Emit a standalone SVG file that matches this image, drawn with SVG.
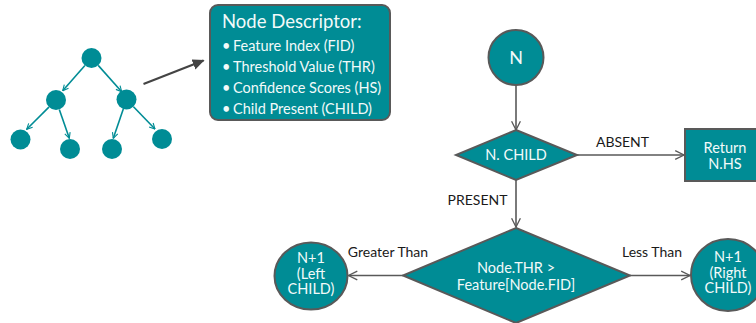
<svg xmlns="http://www.w3.org/2000/svg" width="756" height="323" viewBox="0 0 756 323">
  <style>
    .teal { fill: #008c95; }
    .node { fill: #008c95; stroke: #595959; stroke-width: 2; }
    .tree-edge { stroke: #008c95; stroke-width: 1.6; fill: none; marker-end: url(#tealHead); }
    .flow { stroke: #595959; stroke-width: 1.6; fill: none; marker-end: url(#greyHead); }
    .in { font-family: Lato, "Liberation Sans", sans-serif; fill: #f2fafa; font-size: 14.5px; }
    .lbl { font-family: Lato, "Liberation Sans", sans-serif; fill: #1a1a1a; font-size: 14px; }
    .mid { text-anchor: middle; }
    .title { font-size: 18.5px; }
    .big { font-size: 18px; }
    .item { font-size: 14.5px; }
  </style>
  <defs>
    <marker id="tealHead" viewBox="0 0 10 10" refX="9" refY="5" markerWidth="7" markerHeight="7" markerUnits="userSpaceOnUse" orient="auto">
      <path d="M1,1 L9,5 L1,9" fill="none" stroke="#008c95" stroke-width="1.6"/>
    </marker>
    <marker id="greyHead" viewBox="0 0 10 10" refX="9" refY="5" markerWidth="11" markerHeight="11" markerUnits="userSpaceOnUse" orient="auto">
      <path d="M1,1 L9,5 L1,9" fill="none" stroke="#595959" stroke-width="1.2"/>
    </marker>
    <marker id="darkHead" viewBox="0 0 10 10" refX="9" refY="5" markerWidth="12" markerHeight="12" markerUnits="userSpaceOnUse" orient="auto">
      <path d="M0,0.5 L10,5 L0,9.5 Z" fill="#444444"/>
    </marker>
  </defs>

  <!-- small binary tree -->
  <g id="tree">
    <g id="connectors-tree">
      <line class="tree-edge" x1="84.9" y1="65.5" x2="62.7" y2="90.7"/>
      <line class="tree-edge" x1="98.2" y1="65.4" x2="121.7" y2="91.7"/>
      <line class="tree-edge" x1="48.9" y1="107.1" x2="26.7" y2="129.3"/>
      <line class="tree-edge" x1="59.3" y1="109.5" x2="69.3" y2="138.3"/>
      <line class="tree-edge" x1="123.3" y1="109" x2="113.3" y2="138.3"/>
      <line class="tree-edge" x1="133.5" y1="106.7" x2="155" y2="129"/>
    </g>
    <circle id="t-root" class="teal" cx="91.5" cy="58" r="10"/>
    <circle id="t-l" class="teal" cx="56" cy="100" r="10"/>
    <circle id="t-r" class="teal" cx="126.5" cy="99.5" r="10"/>
    <circle id="t-ll" class="teal" cx="20.5" cy="139.5" r="10"/>
    <circle id="t-lr" class="teal" cx="70" cy="149" r="10"/>
    <circle id="t-rl" class="teal" cx="112" cy="149" r="10"/>
    <circle id="t-rr" class="teal" cx="162" cy="139" r="10"/>
  </g>

  <!-- connectors -->
  <g id="connectors">
    <line x1="143.5" y1="84" x2="203.5" y2="60.5" stroke="#444444" stroke-width="2.2" marker-end="url(#darkHead)"/>
    <line class="flow" x1="516" y1="85" x2="516" y2="130"/>
    <line class="flow" x1="577" y1="155" x2="684" y2="155"/>
    <line class="flow" x1="516" y1="180" x2="516" y2="227"/>
    <line class="flow" x1="403" y1="275.5" x2="348.5" y2="275.5"/>
    <line class="flow" x1="630" y1="275.5" x2="690" y2="275.5"/>
    <text class="lbl mid" x="622.5" y="147">ABSENT</text>
    <text class="lbl mid" x="477.5" y="205">PRESENT</text>
    <text class="lbl mid" x="388" y="257">Greater Than</text>
    <text class="lbl mid" x="652" y="257">Less Than</text>
  </g>

  <!-- node descriptor card -->
  <g id="descriptor">
    <rect x="210" y="5" width="180" height="115" rx="8" class="node"/>
    <text class="in title" x="222" y="28">Node Descriptor:</text>
    <text class="in item" x="222" y="51">•</text><text class="in item" x="233" y="51">Feature Index (FID)</text>
    <text class="in item" x="222" y="72">•</text><text class="in item" x="233" y="72">Threshold Value (THR)</text>
    <text class="in item" x="222" y="93">•</text><text class="in item" x="233" y="93">Confidence Scores (HS)</text>
    <text class="in item" x="222" y="114">•</text><text class="in item" x="233" y="114">Child Present (CHILD)</text>
  </g>

  <!-- flowchart nodes -->
  <g id="node-n">
    <circle class="node" cx="516" cy="57.5" r="27.5"/>
    <text class="in mid big" x="516" y="63.5">N</text>
  </g>

  <g id="check-child">
    <polygon class="node" points="516,130 577,155 516,180 456,155"/>
    <text class="in mid" x="516" y="160">N. CHILD</text>
  </g>

  <g id="return-hs">
    <rect class="node" x="685" y="129" width="78" height="52"/>
    <text class="in mid" x="725" y="153">Return</text>
    <text class="in mid" x="725" y="169">N.HS</text>
  </g>

  <g id="compare">
    <polygon class="node" points="516,228 630,275.5 516,323 403,275.5"/>
    <text class="in mid" x="516" y="273">Node.THR &gt;</text>
    <text class="in mid" x="516" y="290">Feature[Node.FID]</text>
  </g>

  <g id="left-child">
    <ellipse class="node" cx="311" cy="276" rx="36.5" ry="33.5"/>
    <text class="in mid" x="311" y="263">N+1</text>
    <text class="in mid" x="311" y="278.5">(Left</text>
    <text class="in mid" x="311" y="294">CHILD)</text>
  </g>

  <g id="right-child">
    <ellipse class="node" cx="728" cy="275" rx="37" ry="36"/>
    <text class="in mid" x="728" y="262">N+1</text>
    <text class="in mid" x="728" y="277.5">(Right</text>
    <text class="in mid" x="728" y="293">CHILD)</text>
  </g>
</svg>
